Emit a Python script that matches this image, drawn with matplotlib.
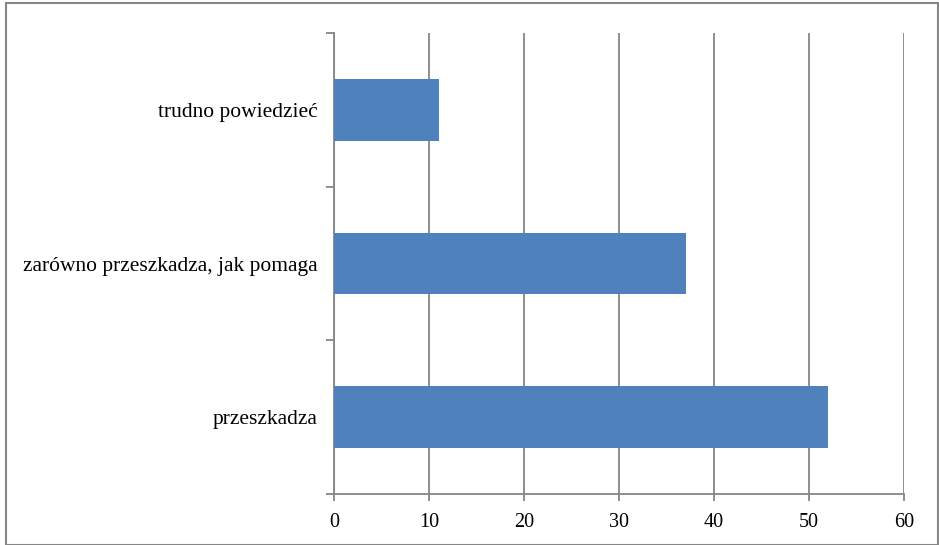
import matplotlib
matplotlib.use("Agg")
import matplotlib.pyplot as plt
from matplotlib.patches import Rectangle

categories = ["przeszkadza", "zarówno przeszkadza, jak pomaga", "trudno powiedzieć"]
values = [52, 37, 11]
xticks = [0, 10, 20, 30, 40, 50, 60]

plt.rcParams['font.family'] = ['Liberation Serif', 'DejaVu Serif']

W, H = 939, 545
fig = plt.figure(figsize=(W / 100, H / 100), dpi=100)
ax = fig.add_axes([334 / W, (H - 494) / H, (904 - 334) / W, (494 - 33) / H])

grey = "#868686"
ax.barh(range(len(values)), values, height=0.4, color="#4F81BD", zorder=3)
ax.set_xlim(0, 60)
ax.set_ylim(-0.5, len(values) - 0.5)
ax.set_xticks(xticks)
ax.set_xticklabels([str(v) for v in xticks], fontsize=14.5)
ax.grid(axis="x", color=grey, linewidth=1.3, zorder=0)

# category labels in the middle of each band, boundary ticks
ax.set_yticks([i - 0.5 for i in range(len(values) + 1)])
ax.set_yticklabels([])
ax.set_yticks(range(len(values)), minor=True)
ax.set_yticklabels(categories, minor=True, fontsize=15.5)
ax.tick_params(axis="y", which="minor", length=0, pad=12)
ax.tick_params(axis="y", which="major", length=6, color=grey, width=1.3)
ax.tick_params(axis="x", length=5, color=grey, width=1.3, pad=9)

for s in ["top", "right"]:
    ax.spines[s].set_visible(False)
for s in ["left", "bottom"]:
    ax.spines[s].set_color(grey)
    ax.spines[s].set_linewidth(1.3)

fig.patches.append(Rectangle((6 / W, 0), (W - 7) / W, (H - 3) / H,
                             transform=fig.transFigure, fill=False,
                             edgecolor=grey, linewidth=1.5))

fig.savefig("out.png", dpi=100)
